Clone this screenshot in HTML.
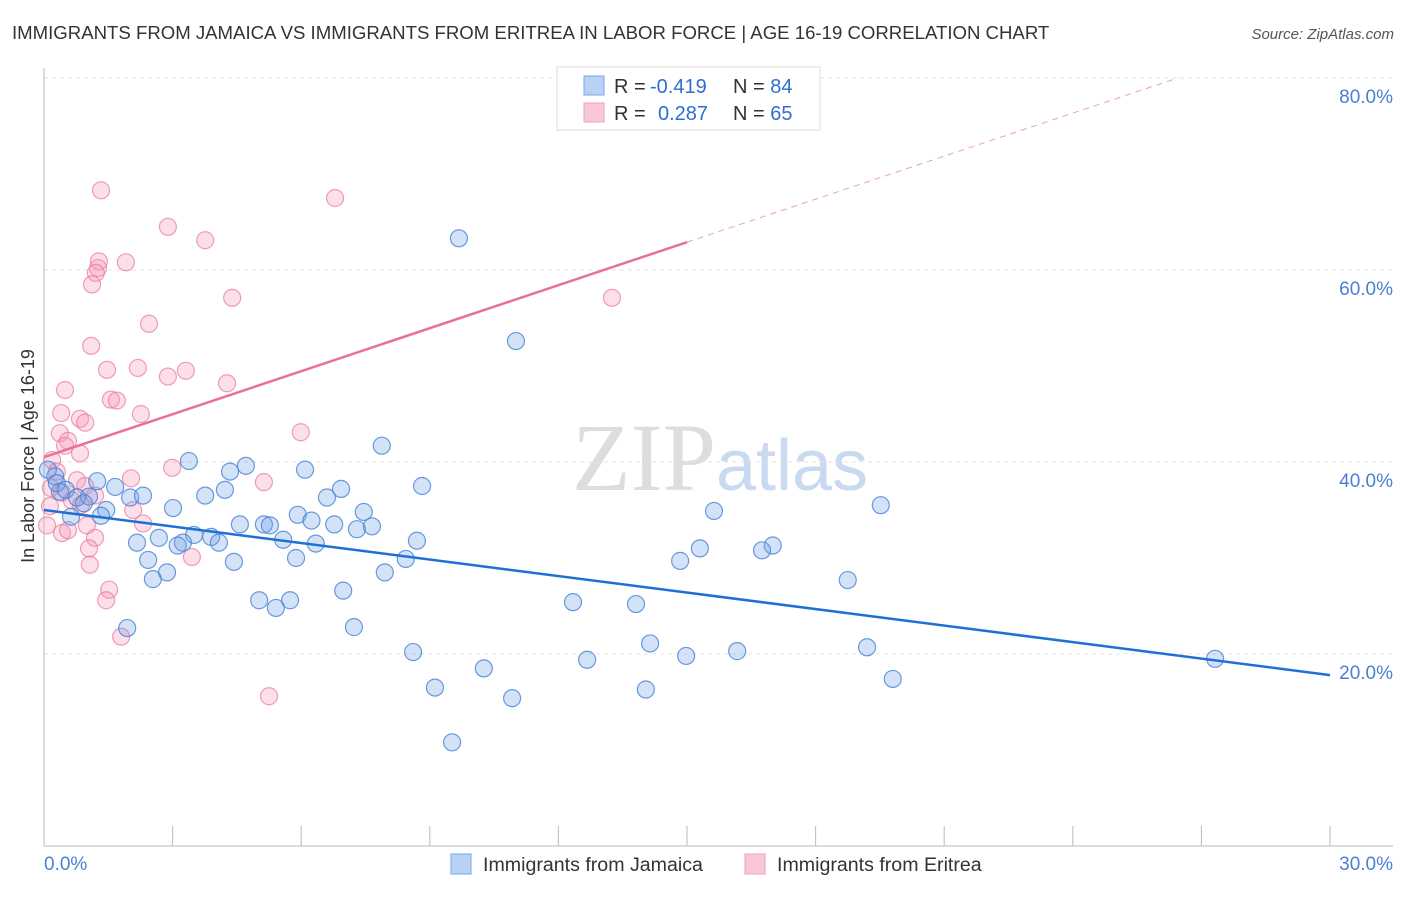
<!DOCTYPE html>
<html><head><meta charset="utf-8"><style>
body{margin:0;background:#fff;font-family:"Liberation Sans",sans-serif}
</style></head><body>
<svg id="chart" width="1406" height="892" xmlns="http://www.w3.org/2000/svg" font-family="Liberation Sans, sans-serif">
<text x="12" y="39" font-size="18.6" fill="#333">IMMIGRANTS FROM JAMAICA VS IMMIGRANTS FROM ERITREA IN LABOR FORCE | AGE 16-19 CORRELATION CHART</text>
<text x="1394" y="39" font-size="15" fill="#555" font-style="italic" text-anchor="end">Source: ZipAtlas.com</text>
<text x="720" y="490" font-size="96" text-anchor="middle" fill="#ddd" font-family="Liberation Serif, serif">ZIP<tspan fill="#c9daf0" font-family="Liberation Sans, sans-serif" font-size="72">atlas</tspan></text>
<g id="grid"></g><g id="axes"></g><g id="marks"></g>
<text transform="translate(34,456) rotate(-90)" font-size="18" fill="#333" text-anchor="middle">In Labor Force | Age 16-19</text>
<g>
<rect x="557" y="67" width="263" height="63" fill="#fff" stroke="#ddd"/>
<rect x="584" y="76" width="20" height="19" fill="#b8d2f5" stroke="#7aa5e6"/>
<rect x="584" y="103" width="20" height="19" fill="#f9c8d6" stroke="#eea0b8"/>
<text x="614" y="93" font-size="20" fill="#333">R = <tspan x="650" fill="#2f6fd0">-0.419</tspan><tspan x="733">N = </tspan><tspan fill="#2f6fd0">84</tspan></text>
<text x="614" y="120" font-size="20" fill="#333">R = <tspan x="658" fill="#2f6fd0">0.287</tspan><tspan x="733">N = </tspan><tspan fill="#2f6fd0">65</tspan></text>
</g>
<g>
<rect x="451" y="854" width="20" height="20" fill="#b8d2f5" stroke="#7aa5e6"/>
<text x="483" y="871" font-size="19.6" fill="#333">Immigrants from Jamaica</text>
<rect x="745" y="854" width="20" height="20" fill="#f9c8d6" stroke="#eea0b8"/>
<text x="777" y="871" font-size="19.6" fill="#333">Immigrants from Eritrea</text>
</g>
</svg>
<script>
const yTicks=[20,40,60,80];
const yTickLabels=["20.0%","40.0%","60.0%","80.0%"];
const xTicks=[0,3,6,9,12,15,18,21,24,27,30];
const jamX=[9.68,11.01,7.88,3.38,6.09,4.71,4.34,8.82,6.93,4.22,3.76,1.66,1.24,0.26,0.37,1.05,2.01,2.31,6.60,7.46,5.92,6.24,3.01,1.45,1.33,0.63,4.57,5.13,5.27,6.77,7.30,7.65,19.52,15.63,3.50,3.90,2.68,4.08,5.58,6.34,3.24,3.12,2.17,8.70,15.30,17.00,16.75,5.88,8.44,14.84,2.43,4.43,2.87,7.95,2.54,18.75,6.98,5.02,5.74,12.34,13.81,5.41,7.23,1.94,14.14,8.61,14.98,16.17,19.20,27.32,12.67,10.26,9.12,14.04,10.92,19.80,9.52,0.09,0.30,0.51,0.77,0.93];
const jamY=[63.3,52.6,41.7,40.1,39.2,39.6,39.0,37.5,37.2,37.1,36.5,37.4,38.0,38.5,36.9,36.4,36.3,36.5,36.3,34.8,34.5,33.9,35.2,35.0,34.4,34.3,33.5,33.5,33.4,33.5,33.0,33.3,35.5,34.9,32.4,32.2,32.1,31.6,31.9,31.5,31.6,31.3,31.6,31.8,31.0,31.3,30.8,30.0,29.9,29.7,29.8,29.6,28.5,28.5,27.8,27.7,26.6,25.6,25.6,25.4,25.2,24.8,22.8,22.7,21.1,20.2,19.8,20.3,20.7,19.5,19.4,18.5,16.5,16.3,15.4,17.4,10.8,39.2,37.8,37.1,36.3,35.7];
const eriX=[1.33,6.79,2.89,3.76,1.28,1.91,1.26,1.21,1.12,4.39,13.25,2.45,1.10,1.47,2.19,3.31,2.89,0.49,4.27,1.56,1.70,2.26,0.40,0.84,0.96,0.37,5.99,0.56,0.49,0.84,0.19,2.99,0.30,2.03,5.13,0.77,0.96,0.16,0.42,1.19,0.65,0.14,0.86,2.08,2.31,1.00,0.07,0.42,0.56,1.19,1.05,3.45,1.07,1.52,1.45,1.80,5.25];
const eriY=[68.3,67.5,64.5,63.1,60.9,60.8,60.2,59.7,58.5,57.1,57.1,54.4,52.1,49.6,49.8,49.5,48.9,47.5,48.2,46.5,46.4,45.0,45.1,44.5,44.1,43.0,43.1,42.2,41.7,40.9,40.2,39.4,39.0,38.3,37.9,38.1,37.5,37.3,36.8,36.5,36.0,35.4,35.5,35.0,33.6,33.4,33.4,32.6,32.9,32.1,31.0,30.1,29.3,26.7,25.6,21.8,15.6];
const jamTrend=[35.0,17.8];
const eriTrend=[40.5,62.9];
const eriTrendSolidEnd=15;
const ns="http://www.w3.org/2000/svg";
const X=v=>44+v*(1330-44)/30, Y=v=>846-v*9.6;
function mk(p,t,a){const e=document.createElementNS(ns,t);for(const k in a)e.setAttribute(k,a[k]);p.appendChild(e);return e;}
const grid=document.getElementById('grid'),axes=document.getElementById('axes'),marks=document.getElementById('marks');
yTicks.forEach((t,i)=>{
 const l=mk(grid,'line',{x1:44,x2:1393,y1:Y(t),y2:Y(t),stroke:'#e3e3e3','stroke-dasharray':'4,4'});
 
 
 const tx=mk(axes,'text',{x:1393,y:Y(t)+25,'font-size':19,fill:'#4a7fd4','text-anchor':'end'});tx.textContent=yTickLabels[i];
 
 
});
const al=mk(axes,'line',{x1:44,x2:44,y1:68,y2:846,stroke:'#bbb'});


const bl=mk(axes,'line',{x1:44,x2:1393,y1:846,y2:846,stroke:'#bbb'});


xTicks.forEach(t=>{const l=mk(axes,'line',{x1:X(t),x2:X(t),y1:826,y2:846,stroke:'#bbb'});
 
 });
const x0=mk(axes,'text',{x:44,y:870,'font-size':19,fill:'#4a7fd4'});x0.textContent='0.0%';


const x1=mk(axes,'text',{x:1393,y:870,'font-size':19,fill:'#4a7fd4','text-anchor':'end'});x1.textContent='30.0%';


eriX.forEach((v,i)=>{const c=mk(marks,'circle',{cx:X(v),cy:Y(eriY[i]),r:8.5,fill:'rgba(244,150,178,0.3)',stroke:'rgba(232,120,155,0.7)','stroke-width':1.2});
 
 });
jamX.forEach((v,i)=>{const c=mk(marks,'circle',{cx:X(v),cy:Y(jamY[i]),r:8.5,fill:'rgba(110,160,230,0.3)',stroke:'rgba(70,130,215,0.8)','stroke-width':1.2});
 
 });
const slope=(eriTrend[1]-eriTrend[0])/eriTrendSolidEnd;
const pe=mk(marks,'line',{x1:X(0),y1:Y(eriTrend[0]),x2:X(eriTrendSolidEnd),y2:Y(eriTrend[1]),stroke:'#e8709a','stroke-width':2.5});


const xEnd=(80-eriTrend[0])/slope;
const pd=mk(marks,'line',{x1:X(eriTrendSolidEnd),y1:Y(eriTrend[1]),x2:X(xEnd),y2:Y(80),stroke:'#eaa0b8','stroke-width':1,'stroke-dasharray':'6,5'});


const jl=mk(marks,'line',{x1:X(0),y1:Y(jamTrend[0]),x2:X(30),y2:Y(jamTrend[1]),stroke:'#1f6fd6','stroke-width':2.5});


</script>
</body></html>
